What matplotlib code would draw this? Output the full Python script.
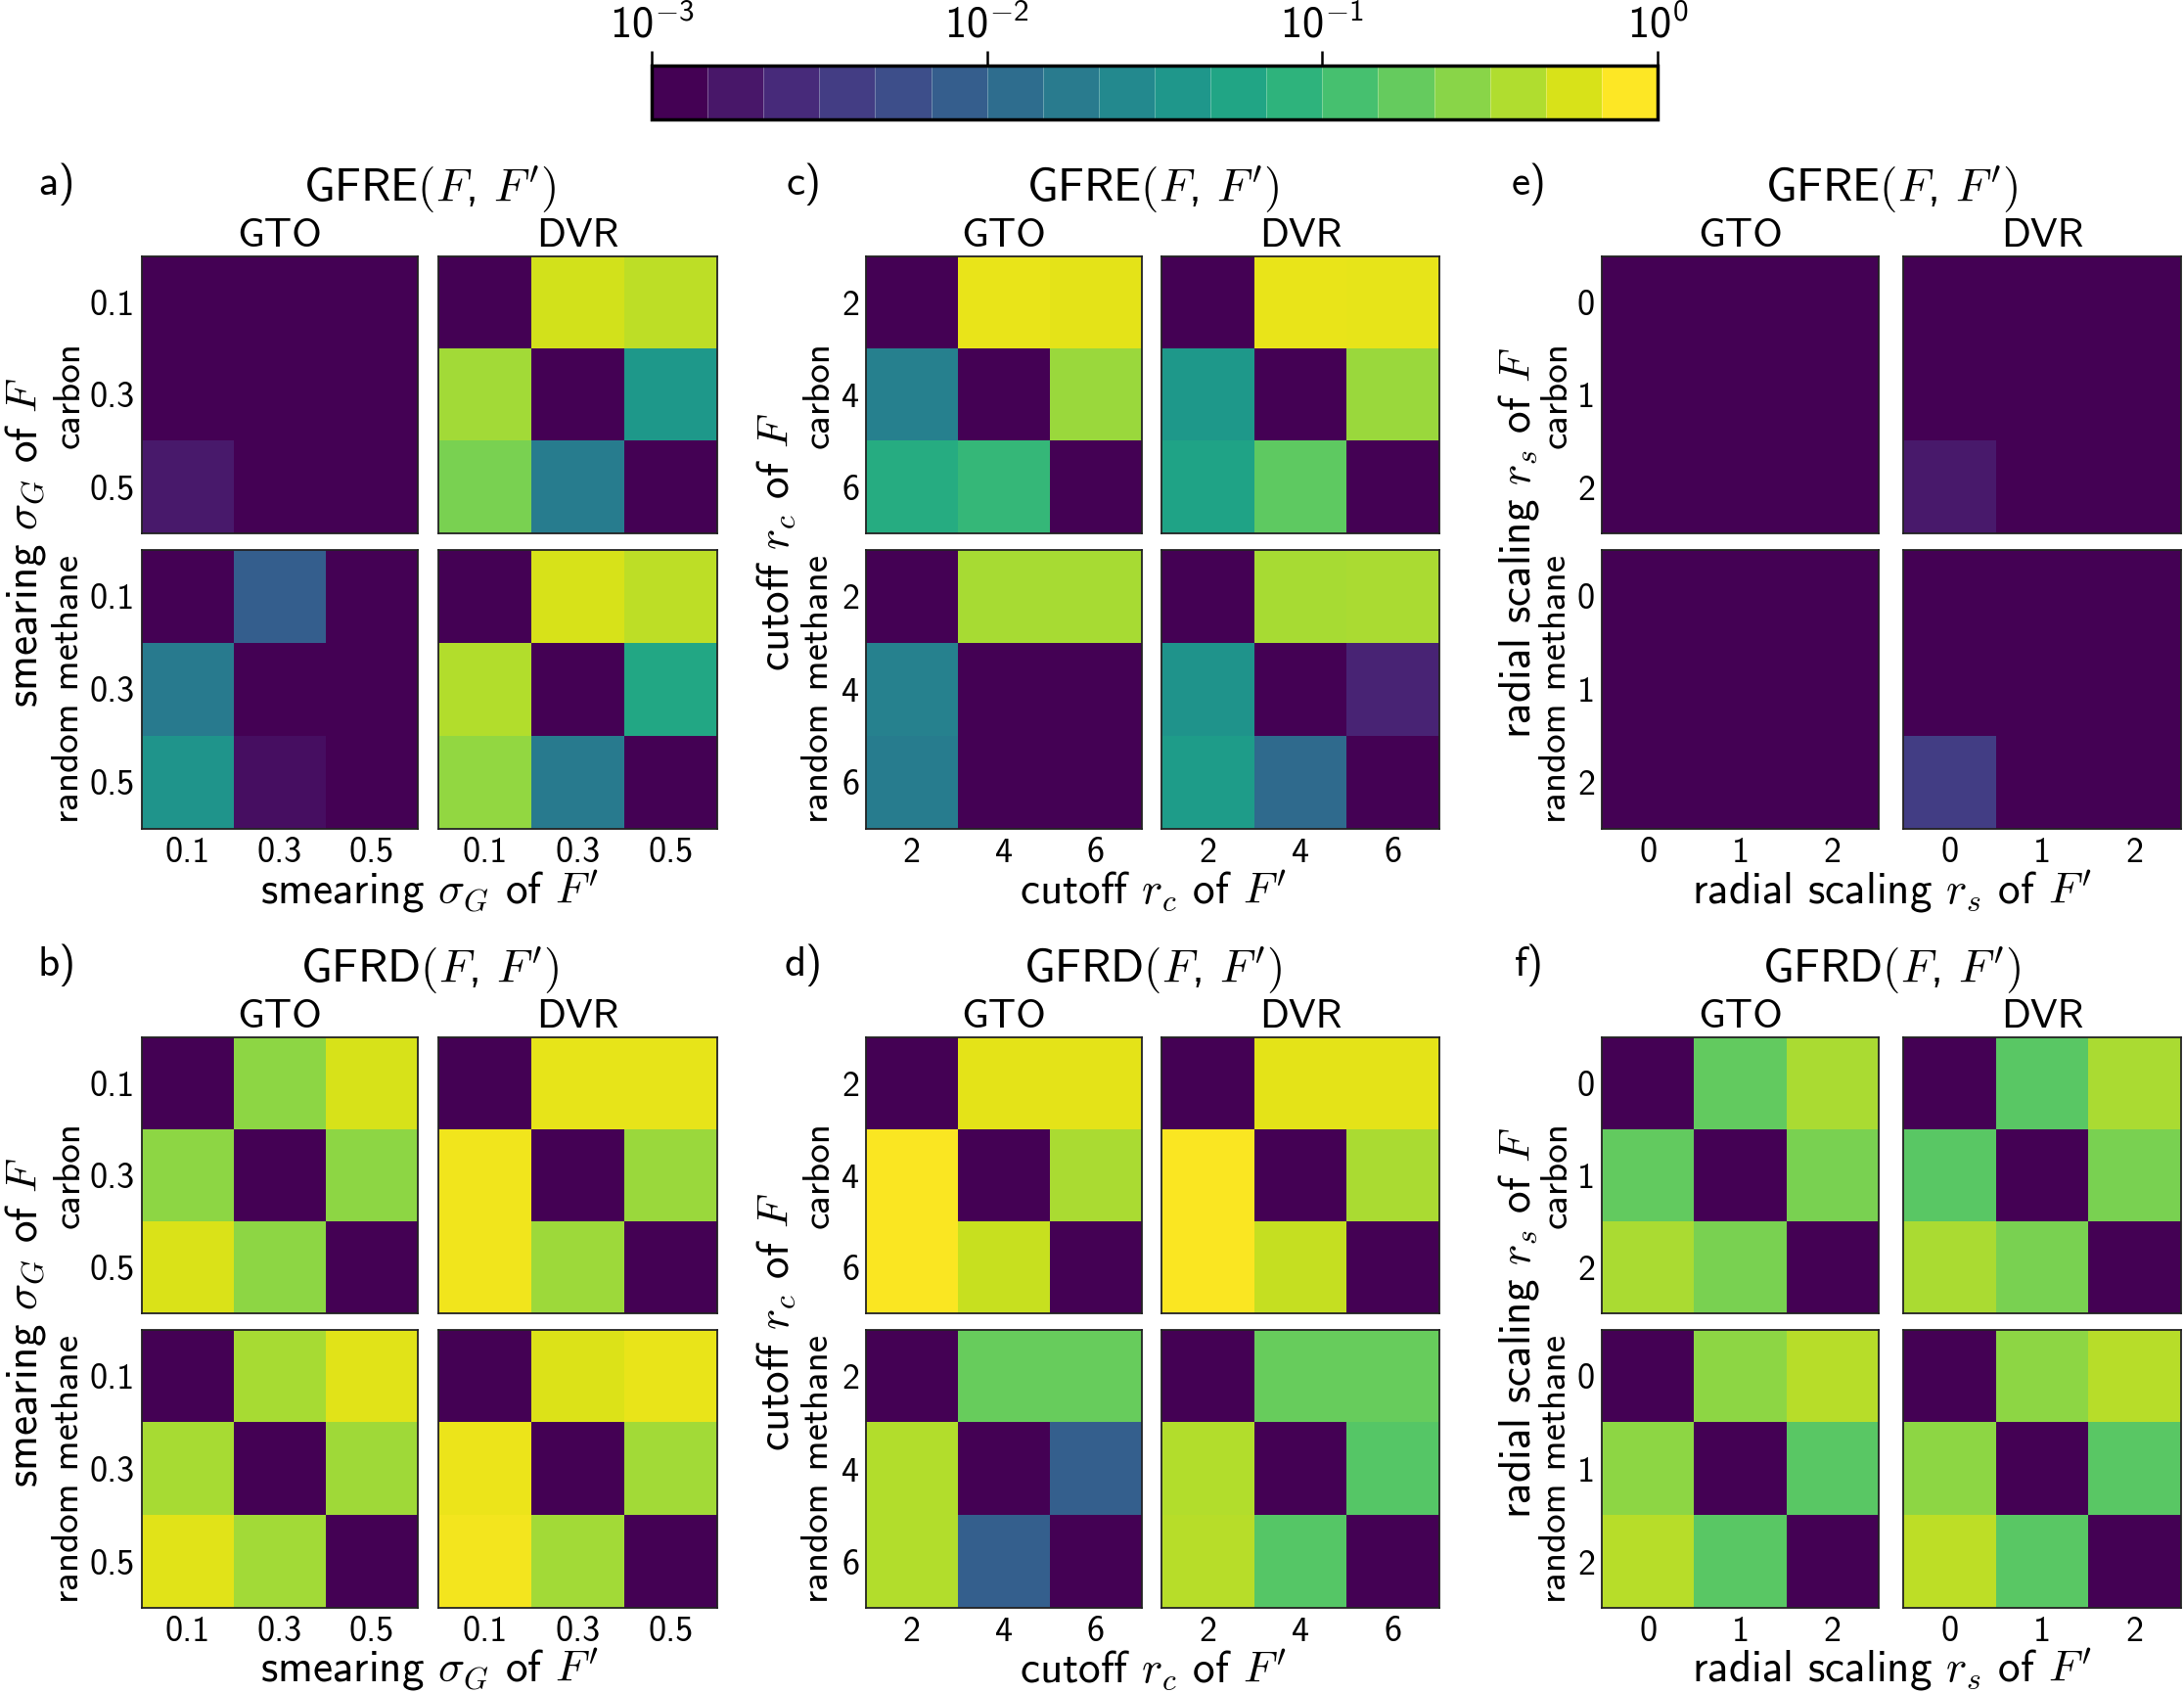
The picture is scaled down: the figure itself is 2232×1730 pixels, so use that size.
import numpy as np
import matplotlib
matplotlib.use("Agg")
import matplotlib.pyplot as plt
from matplotlib.colors import LogNorm
from matplotlib.cm import ScalarMappable

plt.rcParams['font.family'] = ['cmss10', 'DejaVu Sans']
plt.rcParams['mathtext.fontset'] = 'cm'
plt.rcParams['mathtext.rm'] = 'cmss10'
plt.rcParams['mathtext.sf'] = 'cmss10'
plt.rcParams['mathtext.it'] = 'cmmi10'
plt.rcParams['mathtext.bf'] = 'cmss10'
plt.rcParams['axes.unicode_minus'] = False
plt.rcParams['axes.formatter.use_mathtext'] = True

# ---------------- data (rows: hyper of F, cols: hyper of F') ----------------
sigma_ticks = ['0.1', '0.3', '0.5']
cutoff_ticks = ['2', '4', '6']
scaling_ticks = ['0', '1', '2']
row_names = ['carbon', 'random methane']
col_names = ['GTO', 'DVR']

# a) GFRE, smearing
gfre_sigma_carbon_gto = [[0, 0, 0], [0, 0, 0], [1.6e-3, 0, 0]]
gfre_sigma_carbon_dvr = [[0, 0.63, 0.50], [0.38, 0, 0.040], [0.25, 0.018, 0]]
gfre_sigma_methane_gto = [[0, 7.9e-3, 0], [0.017, 0, 0], [0.036, 1.3e-3, 0]]
gfre_sigma_methane_dvr = [[0, 0.65, 0.50], [0.45, 0, 0.063], [0.33, 0.017, 0]]
# b) GFRD, smearing
gfrd_sigma_carbon_gto = [[0, 0.31, 0.66], [0.31, 0, 0.31], [0.67, 0.31, 0]]
gfrd_sigma_carbon_dvr = [[0, 0.77, 0.77], [0.87, 0, 0.35], [0.87, 0.36, 0]]
gfrd_sigma_methane_gto = [[0, 0.40, 0.73], [0.40, 0, 0.37], [0.73, 0.38, 0]]
gfrd_sigma_methane_dvr = [[0, 0.70, 0.79], [0.82, 0, 0.38], [0.88, 0.38, 0]]
# c) GFRE, cutoff
gfre_cutoff_carbon_gto = [[0, 0.80, 0.76], [0.020, 0, 0.35], [0.072, 0.10, 0]]
gfre_cutoff_carbon_dvr = [[0, 0.80, 0.78], [0.040, 0, 0.35], [0.055, 0.18, 0]]
gfre_cutoff_methane_gto = [[0, 0.40, 0.40], [0.021, 0, 0], [0.018, 0, 0]]
gfre_cutoff_methane_dvr = [[0, 0.40, 0.42], [0.035, 0, 2.0e-3], [0.045, 0.011, 0]]
# d) GFRD, cutoff
gfrd_cutoff_carbon_gto = [[0, 0.75, 0.75], [0.97, 0, 0.42], [0.97, 0.56, 0]]
gfrd_cutoff_carbon_dvr = [[0, 0.75, 0.76], [0.97, 0, 0.42], [0.97, 0.55, 0]]
gfrd_cutoff_methane_gto = [[0, 0.20, 0.20], [0.45, 0, 8.0e-3], [0.45, 8.0e-3, 0]]
gfrd_cutoff_methane_dvr = [[0, 0.20, 0.20], [0.45, 0, 0.16], [0.48, 0.16, 0]]
# e) GFRE, radial scaling
gfre_scaling_carbon_gto = [[0, 0, 0], [0, 0, 0], [0, 0, 0]]
gfre_scaling_carbon_dvr = [[0, 0, 0], [0, 0, 0], [1.6e-3, 0, 0]]
gfre_scaling_methane_gto = [[0, 0, 0], [0, 0, 0], [0, 0, 0]]
gfre_scaling_methane_dvr = [[0, 0, 0], [0, 0, 0], [3.5e-3, 0, 0]]
# f) GFRD, radial scaling
gfrd_scaling_carbon_gto = [[0, 0.19, 0.42], [0.19, 0, 0.25], [0.42, 0.25, 0]]
gfrd_scaling_carbon_dvr = [[0, 0.17, 0.42], [0.17, 0, 0.25], [0.42, 0.25, 0]]
gfrd_scaling_methane_gto = [[0, 0.31, 0.48], [0.31, 0, 0.17], [0.48, 0.17, 0]]
gfrd_scaling_methane_dvr = [[0, 0.31, 0.48], [0.31, 0, 0.17], [0.50, 0.17, 0]]

cbar_ticks = [1e-3, 1e-2, 1e-1, 1e0]
cbar_exponents = ['-3', '-2', '-1', '0']

panels = [
    dict(letter='a)', metric='GFRE', col=0, row=0, ticks=sigma_ticks,
         xl=r"smearing $\sigma_G$ of $F'$", yl=r"smearing $\sigma_G$ of $F$",
         data=[[gfre_sigma_carbon_gto, gfre_sigma_carbon_dvr],
               [gfre_sigma_methane_gto, gfre_sigma_methane_dvr]]),
    dict(letter='b)', metric='GFRD', col=0, row=1, ticks=sigma_ticks,
         xl=r"smearing $\sigma_G$ of $F'$", yl=r"smearing $\sigma_G$ of $F$",
         data=[[gfrd_sigma_carbon_gto, gfrd_sigma_carbon_dvr],
               [gfrd_sigma_methane_gto, gfrd_sigma_methane_dvr]]),
    dict(letter='c)', metric='GFRE', col=1, row=0, ticks=cutoff_ticks,
         xl=r"cutoff $r_c$ of $F'$", yl=r"cutoff $r_c$ of $F$",
         data=[[gfre_cutoff_carbon_gto, gfre_cutoff_carbon_dvr],
               [gfre_cutoff_methane_gto, gfre_cutoff_methane_dvr]]),
    dict(letter='d)', metric='GFRD', col=1, row=1, ticks=cutoff_ticks,
         xl=r"cutoff $r_c$ of $F'$", yl=r"cutoff $r_c$ of $F$",
         data=[[gfrd_cutoff_carbon_gto, gfrd_cutoff_carbon_dvr],
               [gfrd_cutoff_methane_gto, gfrd_cutoff_methane_dvr]]),
    dict(letter='e)', metric='GFRE', col=2, row=0, ticks=scaling_ticks,
         xl=r"radial scaling $r_s$ of $F'$", yl=r"radial scaling $r_s$ of $F$",
         data=[[gfre_scaling_carbon_gto, gfre_scaling_carbon_dvr],
               [gfre_scaling_methane_gto, gfre_scaling_methane_dvr]]),
    dict(letter='f)', metric='GFRD', col=2, row=1, ticks=scaling_ticks,
         xl=r"radial scaling $r_s$ of $F'$", yl=r"radial scaling $r_s$ of $F$",
         data=[[gfrd_scaling_carbon_gto, gfrd_scaling_carbon_dvr],
               [gfrd_scaling_methane_gto, gfrd_scaling_methane_dvr]]),
]

# ---------------- layout (pixels) ----------------
W, H = 2232, 1730
fig = plt.figure(figsize=(W / 100, H / 100), dpi=100)

COLS_X = [((145, 427), (448, 733)), ((885, 1167), (1187, 1471)), ((1637, 1920), (1945, 2229))]
ROWS_Y = [((262, 545), (562, 847)), ((1060, 1342), (1359, 1643))]
OUTER_YL_X = [26, 793, 1552]
INNER_YL_X = [71, 837, 1591]
LETTER_X = [58, 821, 1563]


def ax_px(x0, x1, y0, y1):
    return fig.add_axes([x0 / W, 1 - y1 / H, (x1 - x0) / W, (y1 - y0) / H])


def txt(x, y, s, **kw):
    return fig.text(x / W, 1 - y / H, s, **kw)


norm = LogNorm(vmin=1e-3, vmax=1.0)
cmap = plt.get_cmap('viridis').copy()
cmap.set_under(cmap(0.0))
FLOOR = 1e-4

TICK_FS = 26
SUB_FS = 30
TITLE_FS = 34
LABEL_FS = 32.5
INNER_FS = 28
LETTER_FS = 31

for p in panels:
    cx = COLS_X[p['col']]
    ry = ROWS_Y[p['row']]
    for i in range(2):          # carbon / random methane
        for j in range(2):      # GTO / DVR
            ax = ax_px(cx[j][0], cx[j][1], ry[i][0], ry[i][1])
            arr = np.clip(np.asarray(p['data'][i][j], dtype=float), FLOOR, None)
            ax.imshow(arr, cmap=cmap, norm=norm, aspect='auto', interpolation='nearest')
            ax.set_xticks(range(3))
            ax.set_yticks(range(3))
            ax.set_xticklabels(p['ticks'] if i == 1 else [])
            ax.set_yticklabels(p['ticks'] if j == 0 else [])
            ax.tick_params(length=0, labelsize=TICK_FS)
            ax.tick_params(axis='x', pad=6)
            ax.tick_params(axis='y', pad=5)
            for s in ax.spines.values():
                s.set_linewidth(1.3)
                s.set_color('#222222')
        # inner row label
        txt(INNER_YL_X[p['col']], (ry[i][0] + ry[i][1]) / 2, row_names[i],
            rotation=90, ha='center', va='center', fontsize=INNER_FS)
    # column headers
    for j in range(2):
        txt((cx[j][0] + cx[j][1]) / 2, ry[0][0] - 10, col_names[j],
            ha='center', va='baseline', fontsize=SUB_FS)
    # title
    mid = (cx[0][0] + cx[1][1]) / 2
    txt(mid, ry[0][0] - 56, p['metric'] + r"$(F$, $F')$",
        ha='center', va='baseline', fontsize=TITLE_FS)
    # panel letter
    txt(LETTER_X[p['col']], ry[0][0] - 63, p['letter'],
        ha='center', va='baseline', fontsize=LETTER_FS)
    # x label
    txt(mid, ry[1][1] + 76, p['xl'], ha='center', va='baseline', fontsize=LABEL_FS)
    # outer y label
    txt(OUTER_YL_X[p['col']], (ry[0][0] + ry[1][1]) / 2, p['yl'],
        rotation=90, ha='center', va='center', fontsize=LABEL_FS)

# ---------------- colorbar ----------------
cax = ax_px(666, 1694, 67, 122)
sm = ScalarMappable(norm=LogNorm(vmin=1e-3, vmax=1.0),
                    cmap=plt.get_cmap('viridis').resampled(18))
cb = fig.colorbar(sm, cax=cax, orientation='horizontal', drawedges=True)
cb.dividers.set_color((1, 1, 1, 0.35))
cb.dividers.set_linewidth(0.6)
cb.outline.set_linewidth(2.5)
cax.xaxis.set_ticks_position('top')
cb.set_ticks(cbar_ticks)
cb.set_ticklabels(['10' + r'$^{\mathrm{' + e + '}}$' for e in cbar_exponents])
cax.minorticks_off()
cax.tick_params(axis='x', which='major', length=11, width=1.8, labelsize=32, pad=3)
for lab in cax.get_xticklabels():
    lab.set_math_fontfamily('custom')

fig.savefig('out.png', dpi=100)
